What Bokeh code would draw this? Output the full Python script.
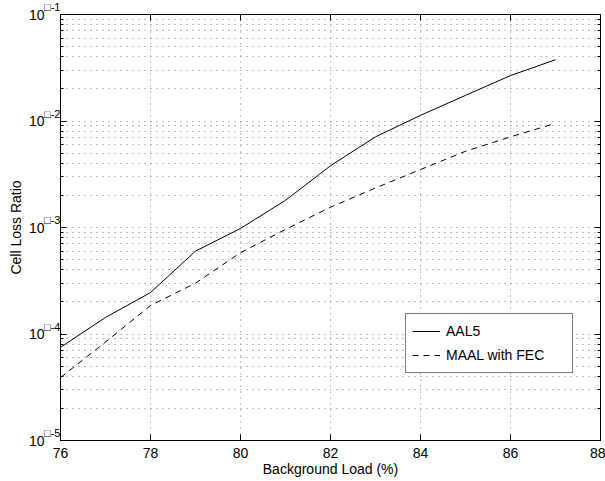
import numpy as np
from bokeh.plotting import figure
from bokeh.models import (LinearAxis, LogAxis, FixedTicker, Range1d, Legend, LegendItem,
                          ColumnDataSource)
from bokeh.embed import file_html
from bokeh.resources import INLINE

# ---- data ----
load = [76, 77, 78, 79, 80, 81, 82, 83, 84, 85, 86, 87]
aal5 = [7.5e-5, 1.43e-4, 2.45e-4, 6.0e-4, 9.8e-4, 1.8e-3, 3.8e-3, 7.1e-3, 1.13e-2, 1.74e-2, 2.67e-2, 3.76e-2]
maal_fec = [3.9e-5, 8.4e-5, 1.85e-4, 3.0e-4, 5.8e-4, 9.6e-4, 1.55e-3, 2.35e-3, 3.5e-3, 5.2e-3, 7.1e-3, 9.5e-3]
x_ticks = [76, 78, 80, 82, 84, 86, 88]
y_exponents = [-5, -4, -3, -2, -1]
y_tick_base = ["10", "10", "10", "10", "10"]
y_tick_sup = ["\u25a1-5", "\u25a1-4", "\u25a1-3", "\u25a1-2", "\u25a1-1"]

FONT = "Liberation Sans"

y_major = [10.0 ** e for e in y_exponents]
y_minor = [m * 10.0 ** e for e in y_exponents[:-1] for m in range(2, 10)]

p = figure(width=605, height=481, x_range=Range1d(76, 88), y_range=Range1d(1e-5, 1e-1),
           y_axis_type="log", output_backend="svg", toolbar_location=None,
           min_border_left=60, min_border_right=5, min_border_top=14, min_border_bottom=41,
           x_axis_label="Background Load (%)")
p.outline_line_color = "black"
p.outline_line_width = 1
p.background_fill_color = "white"
p.border_fill_color = "white"

xt = FixedTicker(ticks=x_ticks)
yt = FixedTicker(ticks=y_major, minor_ticks=y_minor)

def style_axis(ax, labels=True):
    ax.axis_line_color = "black"
    ax.axis_line_width = 1
    ax.major_tick_in = 6
    ax.major_tick_out = 0
    ax.minor_tick_in = 3
    ax.minor_tick_out = 0
    ax.major_tick_line_color = "black"
    ax.minor_tick_line_color = "black"
    ax.major_label_text_font = FONT
    ax.major_label_text_color = "black"
    ax.axis_label_text_font = FONT
    ax.axis_label_text_font_style = "normal"
    ax.axis_label_text_font_size = "14px"
    ax.axis_label_text_color = "black"
    if not labels:
        ax.major_label_text_font_size = "1px"
        ax.major_label_text_alpha = 0
        ax.major_label_standoff = 0

xa = p.xaxis[0]
xa.ticker = xt
style_axis(xa)
xa.major_label_text_font_size = "14px"
xa.major_label_standoff = 7
xa.axis_label_standoff = 0
xa.minor_tick_in = 0

# inner left axis: ticks + raised exponent part of the labels
ya = p.yaxis[0]
ya.ticker = yt
style_axis(ya)
ya.major_label_text_font_size = "11px"
ya.major_label_standoff = 0
ya.major_label_overrides = {v: s + "\n" for v, s in zip(y_major, y_tick_sup)}

# outer left axis: the "10" base of the labels and the axis title
yb = LogAxis(ticker=FixedTicker(ticks=y_major), axis_label="Cell Loss Ratio")
style_axis(yb)
yb.axis_line_color = None
yb.major_tick_in = 0
yb.minor_tick_in = 0
yb.major_label_text_font_size = "14px"
yb.major_label_standoff = -3
yb.axis_label_standoff = 2
yb.major_label_overrides = {v: s for v, s in zip(y_major, y_tick_base)}
p.add_layout(yb, "left")

top = LinearAxis(ticker=xt)
style_axis(top, labels=False)
top.minor_tick_in = 0
p.add_layout(top, "above")
right = LogAxis(ticker=yt)
style_axis(right, labels=False)
p.add_layout(right, "right")

for g in p.xgrid:
    g.ticker = xt
    g.grid_line_color = "#808080"
    g.grid_line_dash = "1 5"
for g in p.ygrid:
    g.ticker = yt
    g.grid_line_color = "#808080"
    g.grid_line_dash = "1 5"
    g.minor_grid_line_color = "#808080"
    g.minor_grid_line_dash = "1 5"

src = ColumnDataSource(dict(x=load, a=aal5, m=maal_fec))
r1 = p.line("x", "a", source=src, line_color="black", line_width=1)
r2 = p.line("x", "m", source=src, line_color="black", line_width=1, line_dash="6 5")

legend = Legend(items=[LegendItem(label="AAL5", renderers=[r1]),
                       LegendItem(label="MAAL with FEC", renderers=[r2])],
                location=(345, 67))
legend.border_line_color = "black"
legend.border_line_width = 1
legend.background_fill_color = "white"
legend.background_fill_alpha = 1
legend.label_text_font = FONT
legend.label_text_font_size = "14px"
legend.label_text_color = "black"
legend.padding = 6
legend.margin = 0
legend.spacing = 2
legend.glyph_width = 28
legend.glyph_height = 22
legend.label_height = 22
legend.label_standoff = 6
legend.label_width = 120
p.add_layout(legend, "center")

open("out.html", "w").write(file_html(p, INLINE))
